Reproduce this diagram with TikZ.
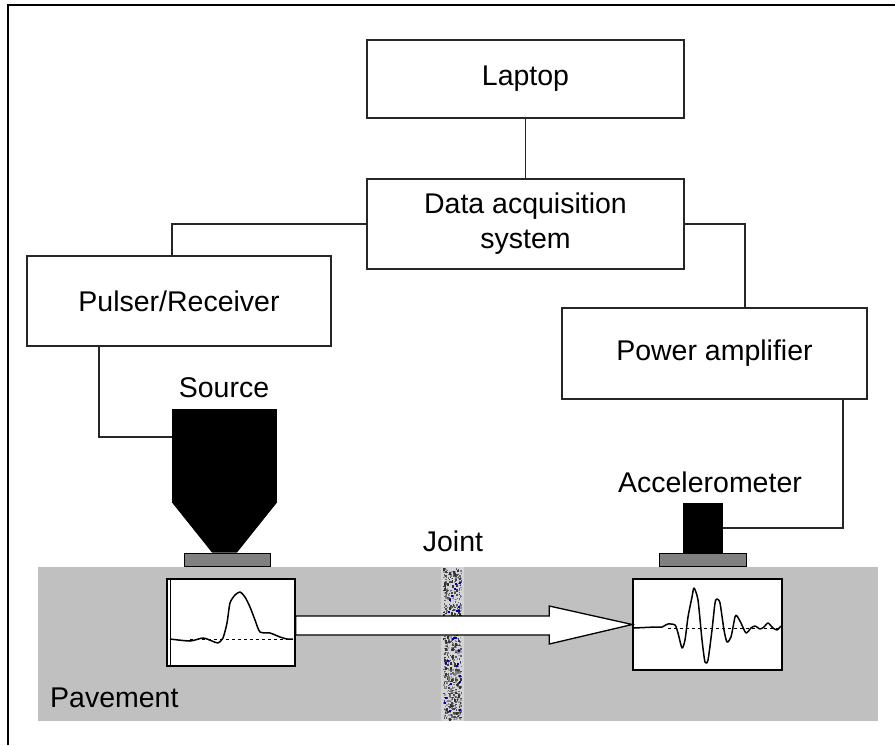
\documentclass[tikz,border=0pt]{standalone}
\usepackage{fontspec}
\setmainfont{Liberation Sans}
\usetikzlibrary{calc}

\definecolor{pave}{HTML}{C0C0C0}
\definecolor{platecol}{HTML}{808080}
\definecolor{wirecol}{HTML}{262626}
\definecolor{jointcol}{HTML}{D4D4D8}

\tikzset{
  box/.style={draw=wirecol, line width=1.3pt, fill=white, inner sep=0pt,
    align=center, font=\fontsize{28.5}{35}\selectfont},
  wire/.style={draw=wirecol, line width=1.3pt},
  lbl/.style={inner sep=0pt, font=\fontsize{28.5}{35}\selectfont},
  wavebox/.style={draw=black, line width=1.5pt, fill=white, inner sep=0pt},
  plate/.style={draw=black, line width=1pt, fill=platecol, inner sep=0pt},
  signal/.style={line width=1.5pt, line join=round},
  zero/.style={line width=1pt, dash pattern=on 3pt off 3pt},
}

\begin{document}
\begin{tikzpicture}[x=1pt, y=-1pt]
\useasboundingbox[fill=white] (0,0) rectangle (895,745);
\draw[line width=2pt] (8,745) -- (8,5) -- (895,5);

% instruments
\node[box, minimum width=317pt, minimum height=78pt] (laptop) at (525.5,79) {Laptop};
\node[box, minimum width=317pt, minimum height=90pt] (daq) at (525.5,224) {Data acquisition\\system};
\node[box, minimum width=304pt, minimum height=90pt] (pulser) at (179,301) {Pulser/Receiver};
\node[box, minimum width=305pt, minimum height=91pt] (amp) at (714.5,353.5) {Power amplifier};

% pavement slab and joint
\fill[pave] (38,567) rectangle (878,721);
\fill[jointcol] (441,567) rectangle (464,721);
\pgfmathsetseed{17}
\foreach \k in {1,...,700}{
  \pgfmathsetmacro\jx{443+18*rnd}
  \pgfmathsetmacro\jy{568+151*rnd}
  \pgfmathsetmacro\jg{35+45*rnd}
  \fill[black!\jg] (\jx,\jy) rectangle ++(1.5,1.5);
}
\foreach \k in {1,...,45}{
  \pgfmathsetmacro\jx{443+17*rnd}
  \pgfmathsetmacro\jy{568+150*rnd}
  \fill[black!80] (\jx,\jy) rectangle ++(2,3);
}
\foreach \k in {1,...,30}{
  \pgfmathsetmacro\jx{443+17*rnd}
  \pgfmathsetmacro\jy{568+150*rnd}
  \fill[blue!70!black] (\jx,\jy) rectangle ++(2,2);
}
\node[lbl] (joint) at (453,541) {Joint};
\node[lbl, anchor=west] (pavement) at (50,698) {Pavement};

% source
\node[fill=black, inner sep=0pt, minimum width=105pt, minimum height=93pt] (srcbody) at (224.5,455.5) {};
\node[plate, minimum width=86pt, minimum height=13pt] (srcplate) at (227,559.5) {};
\fill (srcbody.south west) -- (srcbody.south east) -- ($(srcplate.north)+(10,0)$) -- ($(srcplate.north)+(-15,0)$) -- cycle;
\node[lbl] (srclabel) at (224,388) {Source};

% accelerometer
\node[plate, minimum width=87pt, minimum height=13pt] (accplate) at (702.5,559.5) {};
\node[fill=black, inner sep=0pt, minimum width=40pt, minimum height=50pt] (accbody) at (703,528) {};
\node[lbl] (acclabel) at (710,482) {Accelerometer};

% wiring
\draw[wire] (laptop) -- (daq);
\draw[wire] (daq.west) -| ([xshift=-7pt]pulser.north);
\draw[wire] (daq.east) -| ([xshift=30.5pt]amp.north);
\draw[wire] ([xshift=-80pt]pulser.south) |- ([yshift=18.5pt]srcbody.west);
\draw[wire] ([xshift=128.5pt]amp.south) |- (accbody.east);

% recorded signals
\node[wavebox, minimum width=128pt, minimum height=87pt] (lw) at (231,622.5) {};
\draw[line width=0.8pt] (170,580) -- (170,665);
\draw[zero] (190,639) -- (293,639);
\draw[signal] plot[smooth, tension=0.4] coordinates {(170,639) (190,641) (203,638) (212,641) (218,643) (223,638) (227,623) (230,603) (235,595) (240,592) (245,597) (250,607) (255,620) (260,632) (270,633) (280,637) (287,639) (293,639)};

\node[wavebox, minimum width=149pt, minimum height=91pt] (rw) at (707.5,624.5) {};
\draw[zero] (668,628) -- (781,628);
\draw[signal] plot[smooth, tension=0.4] coordinates {(634,628) (656,627) (662,627) (668,624) (675,625) (678,633) (682,648) (685,640) (688,617) (692,597) (694,588) (698,600) (702,640) (705,662) (708,660) (712,630) (715,603) (717,599) (720,603) (724,630) (727,642) (731,637) (735,617) (737,616) (741,623) (746,633) (751,628) (755,626) (760,629) (764,627) (768,623) (773,628) (777,630) (781,626)};

% travel path
\draw[fill=white, line width=1.3pt, line join=miter]
  ($(lw.east)+(0,-6.5)$) -- ($(rw.west)+(-83,-8.5)$) -- ($(rw.west)+(-83,-18.5)$)
  -- (rw.west) -- ($(rw.west)+(-83,19.5)$) -- ($(rw.west)+(-83,10.5)$)
  -- ($(lw.east)+(0,12.5)$) -- cycle;
\end{tikzpicture}
\end{document}
